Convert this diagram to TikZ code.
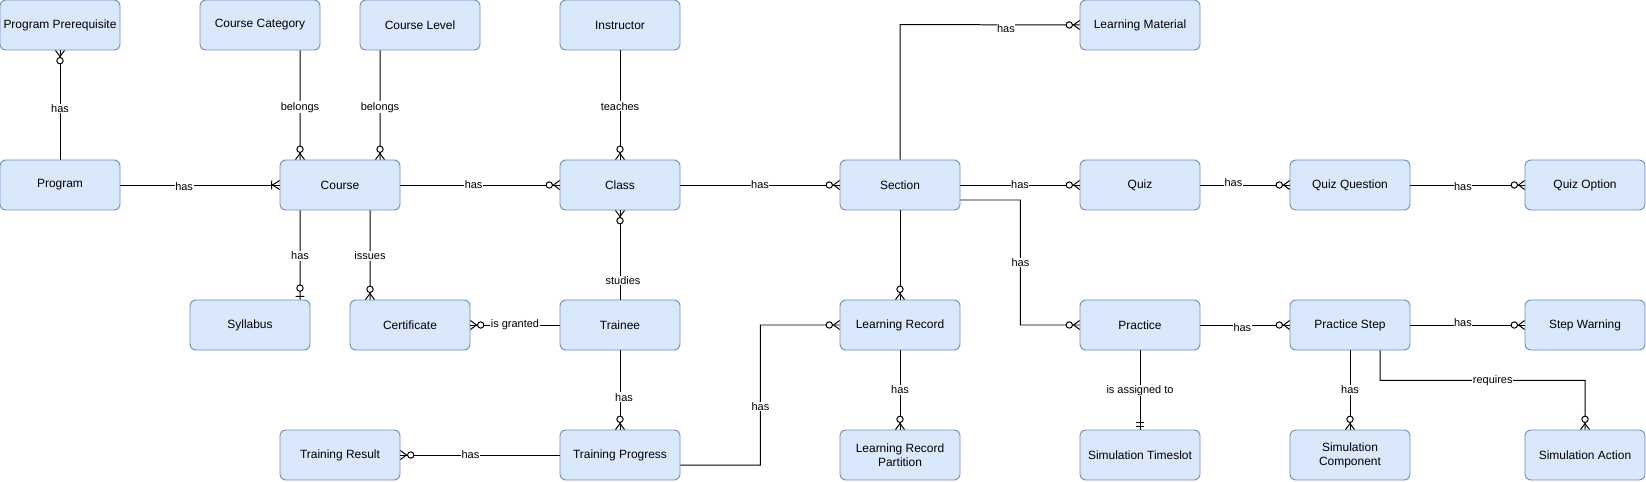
\documentclass[tikz,border=0pt]{standalone}
\usepackage{fontspec}
\setmainfont{Liberation Sans}
\usetikzlibrary{calc}

\definecolor{boxfill}{HTML}{DAE8FC}
\definecolor{boxline}{HTML}{6C8EBF}

% zero or many: circle + crow's foot
\pgfdeclarearrow{
  name = ZM,
  parameters = {\the\pgflinewidth},
  setup code = {
    \pgfarrowssettipend{0pt}
    \pgfarrowssetlineend{0pt}
    \pgfarrowssetbackend{-14pt}
    \pgfarrowssetvisualbackend{-14pt}
    \pgfarrowshullpoint{0pt}{4.5pt}
    \pgfarrowshullpoint{0pt}{-4.5pt}
    \pgfarrowshullpoint{-14pt}{0pt}
  },
  drawing code = {
    \pgfsetdash{}{0pt}
    \pgfpathmoveto{\pgfpoint{0pt}{4.5pt}}
    \pgfpathlineto{\pgfpoint{-6pt}{0pt}}
    \pgfpathlineto{\pgfpoint{0pt}{-4.5pt}}
    \pgfusepathqstroke
    \pgfpathcircle{\pgfpoint{-10.3pt}{0pt}}{3.2pt}
    \pgfsetfillcolor{white}
    \pgfusepathqfillstroke
  }
}
% one or many: bar + crow's foot
\pgfdeclarearrow{
  name = OM,
  parameters = {\the\pgflinewidth},
  setup code = {
    \pgfarrowssettipend{0pt}
    \pgfarrowssetlineend{0pt}
    \pgfarrowssetbackend{-9pt}
    \pgfarrowssetvisualbackend{-9pt}
    \pgfarrowshullpoint{0pt}{4.5pt}
    \pgfarrowshullpoint{0pt}{-4.5pt}
    \pgfarrowshullpoint{-9pt}{0pt}
  },
  drawing code = {
    \pgfsetdash{}{0pt}
    \pgfpathmoveto{\pgfpoint{0pt}{4.5pt}}
    \pgfpathlineto{\pgfpoint{-7pt}{0pt}}
    \pgfpathlineto{\pgfpoint{0pt}{-4.5pt}}
    \pgfpathmoveto{\pgfpoint{-8pt}{4.5pt}}
    \pgfpathlineto{\pgfpoint{-8pt}{-4.5pt}}
    \pgfusepathqstroke
  }
}
% zero or one: circle + bar
\pgfdeclarearrow{
  name = ZO,
  parameters = {\the\pgflinewidth},
  setup code = {
    \pgfarrowssettipend{0pt}
    \pgfarrowssetlineend{0pt}
    \pgfarrowssetbackend{-15pt}
    \pgfarrowssetvisualbackend{-15pt}
    \pgfarrowshullpoint{0pt}{4.5pt}
    \pgfarrowshullpoint{0pt}{-4.5pt}
    \pgfarrowshullpoint{-15pt}{0pt}
  },
  drawing code = {
    \pgfsetdash{}{0pt}
    \pgfpathmoveto{\pgfpoint{-3.3pt}{4.5pt}}
    \pgfpathlineto{\pgfpoint{-3.3pt}{-4.5pt}}
    \pgfusepathqstroke
    \pgfpathcircle{\pgfpoint{-11.5pt}{0pt}}{3.2pt}
    \pgfsetfillcolor{white}
    \pgfusepathqfillstroke
  }
}
% one and only one: two bars
\pgfdeclarearrow{
  name = OO,
  parameters = {\the\pgflinewidth},
  setup code = {
    \pgfarrowssettipend{0pt}
    \pgfarrowssetlineend{0pt}
    \pgfarrowssetbackend{-8pt}
    \pgfarrowssetvisualbackend{-8pt}
    \pgfarrowshullpoint{0pt}{4.5pt}
    \pgfarrowshullpoint{0pt}{-4.5pt}
    \pgfarrowshullpoint{-8pt}{0pt}
  },
  drawing code = {
    \pgfsetdash{}{0pt}
    \pgfpathmoveto{\pgfpoint{-3.3pt}{4.5pt}}
    \pgfpathlineto{\pgfpoint{-3.3pt}{-4.5pt}}
    \pgfpathmoveto{\pgfpoint{-6.8pt}{4.5pt}}
    \pgfpathlineto{\pgfpoint{-6.8pt}{-4.5pt}}
    \pgfusepathqstroke
  }
}

\begin{document}
\begin{tikzpicture}[x=1bp,y=-1bp,
  ent/.style={draw=boxline, fill=boxfill, rounded corners=6bp,
    minimum width=120bp, minimum height=50bp, inner sep=0pt,
    align=center, font=\fontsize{12}{14}\selectfont, line width=0.9pt},
  rel/.style={line width=1pt, draw=black},
  lbl/.style={fill=white, inner sep=0.6pt, font=\fontsize{11}{13}\selectfont},
  zm/.style={rel, -ZM}, om/.style={rel, -OM},
  zo/.style={rel, -ZO}, oo/.style={rel, -OO}]

\useasboundingbox (0,0) rectangle (1646,482);

% entities
\node[ent] (pp)       at (60,25)   {Program Prerequisite};
\node[ent] (cc)       at (260,25)  {Course Category};
\node[ent] (cl)       at (420,25)  {Course Level};
\node[ent] (instr)    at (620,25)  {Instructor};
\node[ent] (lm)       at (1140,25) {Learning Material};
\node[ent] (prog)     at (60,185)  {Program};
\node[ent] (course)   at (340,185) {Course};
\node[ent] (class)    at (620,185) {Class};
\node[ent] (section)  at (900,185) {Section};
\node[ent] (quiz)     at (1140,185) {Quiz};
\node[ent] (qq)       at (1350,185) {Quiz Question};
\node[ent] (qo)       at (1585,185) {Quiz Option};
\node[ent] (syl)      at (250,325) {Syllabus};
\node[ent] (cert)     at (410,325) {Certificate};
\node[ent] (trainee)  at (620,325) {Trainee};
\node[ent] (lr)       at (900,325) {Learning Record};
\node[ent] (practice) at (1140,325) {Practice};
\node[ent] (ps)       at (1350,325) {Practice Step};
\node[ent] (sw)       at (1585,325) {Step Warning};
\node[ent] (tr)       at (340,455) {Training Result};
\node[ent] (tp)       at (620,455) {Training Progress};
\node[ent] (lrp)      at (900,455) {Learning Record\\Partition};
\node[ent] (st)       at (1140,455) {Simulation Timeslot};
\node[ent] (sc)       at (1350,455) {Simulation\\Component};
\node[ent] (sa)       at (1585,455) {Simulation Action};

% relationships
\draw[zm] (prog.north) -- node[lbl, pos=0.47] {has} (pp.south);
\draw[zm] ([xshift=40bp]cc.south) -- node[lbl, pos=0.52] {belongs} ([xshift=-40bp]course.north);
\draw[zm] ([xshift=-40bp]cl.south) -- node[lbl, pos=0.52] {belongs} ([xshift=40bp]course.north);
\draw[om] (prog.east) -- node[lbl, pos=0.4, yshift=-2pt] {has} (course.west);
\draw[zm] (course.east) -- node[lbl, pos=0.46] {has} (class.west);
\draw[zm] (instr.south) -- node[lbl, pos=0.51] {teaches} (class.north);
\draw[zm] (class.east) -- node[lbl, pos=0.5] {has} (section.west);
\draw[zo] ([xshift=-40bp]course.south) -- node[lbl, pos=0.51] {has} ([xshift=50bp]syl.north);
\draw[zm] ([xshift=30bp]course.south) -- node[lbl, pos=0.51] {issues} ([xshift=-40bp]cert.north);
\draw[zm] (trainee.north) -- node[lbl, pos=0.21, xshift=3pt] {studies} (class.south);
\draw[zm] (trainee.west) -- node[lbl, pos=0.5] {is granted} (cert.east);
\draw[zm] (trainee.south) -- node[lbl, pos=0.59, xshift=4pt] {has} (tp.north);
\draw[zm] ([yshift=-10bp]tp.east) -- ++(80,0)
  -- node[lbl, pos=0.42] {has} ++(0,-140) -- (lr.west);
\draw[zm] (tp.west) -- node[lbl, pos=0.56] {has} (tr.east);
\draw[zm] (lr.south) -- node[lbl, pos=0.5] {has} (lrp.north);
\draw[zm] (section.south) -- (lr.north);
\draw[zm] (section.north) -- ++(0,-135)
  -- node[lbl, pos=0.59, yshift=-4pt] {has} (lm.west);
\draw[zm] (section.east) -- node[lbl, pos=0.5] {has} (quiz.west);
\draw[zm] ([yshift=-15bp]section.east) -- ++(60,0)
  -- node[lbl, pos=0.5] {has} ++(0,125) -- (practice.west);
\draw[zm] (quiz.east) -- node[lbl, pos=0.37, yshift=2pt] {has} (qq.west);
\draw[zm] (qq.east) -- node[lbl, pos=0.46, yshift=-2pt] {has} (qo.west);
\draw[zm] (practice.east) -- node[lbl, pos=0.47, yshift=-3pt] {has} (ps.west);
\draw[zm] (ps.east) -- node[lbl, pos=0.46, yshift=2pt] {has} (sw.west);
\draw[oo] (practice.south) -- node[lbl, pos=0.51] {is assigned to} (st.north);
\draw[zm] (ps.south) -- node[lbl, pos=0.5] {has} (sc.north);
\draw[zm] ([xshift=30bp]ps.south) -- ++(0,30)
  -- node[lbl, pos=0.55] {requires} ++(205,0) -- (sa.north);

\end{tikzpicture}
\end{document}
